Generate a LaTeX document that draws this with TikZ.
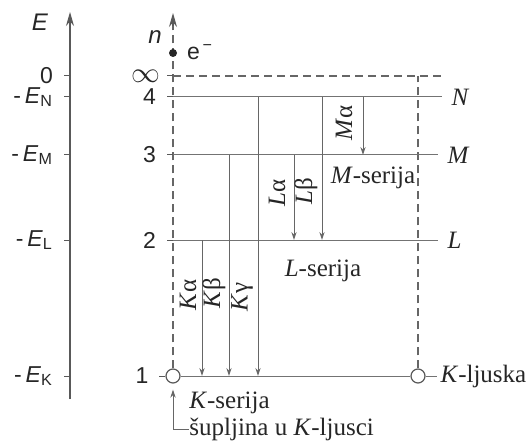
\documentclass[tikz,border=0pt]{standalone}
\usepackage{fontspec}
\setmainfont{Liberation Serif}
\setsansfont{Liberation Sans}
\usetikzlibrary{arrows.meta,positioning}

\begin{document}
\begin{tikzpicture}[x=0.5pt,y=-0.5pt,font=\fontsize{12.5}{14}\selectfont,text=black!85,
  lvl/.style={black!55,line width=0.5pt},
  trans/.style={black!60,line width=0.5pt,-{Stealth[length=4pt,width=2.6pt]}},
  axis/.style={black!65,line width=0.6pt,-{Stealth[length=7pt,width=4pt]}},
  dsh/.style={black!60,line width=0.6pt,dash pattern=on 4pt off 2.5pt},
  sflab/.style={font=\sffamily\fontsize{11.5}{13}\selectfont},
  shlab/.style={text=black!85,inner sep=0pt},
  hole/.style={circle,draw=black!65,fill=white,line width=0.6pt,minimum size=7pt,inner sep=0pt}]
\useasboundingbox (0,0) rectangle (529,443);

% energy axis
\draw[axis] (70,399) -- (70,12);
\node[sflab,font=\sffamily\itshape\fontsize{12}{14}\selectfont] (Elab) at (40,22) {E};
\foreach \y/\lab/\nm in {76/0/eZ, 97/{-\,\textit{E}\textsubscript{N}}/eN,
  155/{-\,\textit{E}\textsubscript{M}}/eM, 240/{-\,\textit{E}\textsubscript{L}}/eL,
  376/{-\,\textit{E}\textsubscript{K}}/eK}{
  \draw[black!65,line width=0.5pt] (64,\y) -- (70,\y);
  \node[sflab,anchor=east] (\nm) at (60,\y) {\lab};
}

% levels
\coordinate (l0) at (173,76);
\coordinate (l4) at (173,97);
\coordinate (l3) at (173,155);
\coordinate (l2) at (173,240);
\coordinate (l1) at (173,376);
\node[hole] (hK) at (l1) {};
\node[hole] (hR) at (418,376) {};

% n axis
\draw[dsh] (hK.north) -- (173,24);
\draw[axis] (173,26) -- (173,13);
\fill[black!85] (173,53) circle (4);
\node[sflab,anchor=west] (elec) at (180,52) {e\textsuperscript{\,−}};
\node[sflab,font=\sffamily\itshape\fontsize{12}{14}\selectfont] (nlab) at (155,37) {n};
\foreach \c/\lab in {l4/4, l3/3, l2/2}{
  \draw[black!65,line width=0.5pt] ([xshift=-3pt]\c) -- ([xshift=2pt]\c);
  \node[sflab,anchor=east] at ([xshift=-5pt]\c) {\lab};
}
\node[anchor=east,inner sep=0pt] (inf) at ([xshift=-6pt]l0) {\fontsize{15}{15}\selectfont$\infty$};
\draw[black!65,line width=0.5pt] ([xshift=-3pt]l0) -- ([xshift=2pt]l0);
\node[sflab,anchor=east] (one) at ([xshift=-5pt]hK.west) {1};
\draw[black!65,line width=0.5pt] ([xshift=-3pt]hK.west) -- (hK.west);

% level lines
\draw[dsh] (l0) -- (442,76);
\draw[dsh] (hR.north) -- (418,76);
\draw[lvl] (l4) -- (442,97) node[shlab,anchor=west] (N) at (451,97) {\textit{N}};
\draw[lvl] (l3) -- (438,155) node[shlab,anchor=west] (M) at (447,155) {\textit{M}};
\draw[lvl] (l2) -- (438,240) node[shlab,anchor=west] (L) at (447,240) {\textit{L}};
\draw[lvl] (hK) -- (hR);
\draw[lvl] (hR) -- (437,376) node[shlab,anchor=west] (Kl) at (440,376) {\textit{K}-ljuska};

% transitions
\foreach \x/\a/\b in {202/2/1, 229/3/1, 258/4/1, 294/3/2, 322/4/2, 363/4/3}
  \draw[trans] (\x,0 |- l\a) -- (\x,0 |- l\b);
\foreach \x/\y in {188/295, 214/293, 242/297, 277/193, 306/191, 344/123}
  \coordinate (t\x) at (\x,\y);
\node[rotate=90] at (t188) {\textit{K}α};
\node[rotate=90] at (t214) {\textit{K}β};
\node[rotate=90] at (t242) {\textit{K}γ};
\node[rotate=90] at (t277) {\textit{L}α};
\node[rotate=90] at (t306) {\textit{L}β};
\node[rotate=90] at (t344) {\textit{M}α};

% series
\node (Mser) at (373,178) {\textit{M}-serija};
\node (Lser) at (323,271) {\textit{L}-serija};
\node[anchor=west,inner sep=0pt] (Kser) at (189,403) {\textit{K}-serija};
\node[anchor=west,inner sep=0pt] (holetxt) at (189,429) {šupljina u \textit{K}-ljusci};
\draw[trans] (holetxt.west) -| ([yshift=-3pt]hK.south);
\end{tikzpicture}
\end{document}
